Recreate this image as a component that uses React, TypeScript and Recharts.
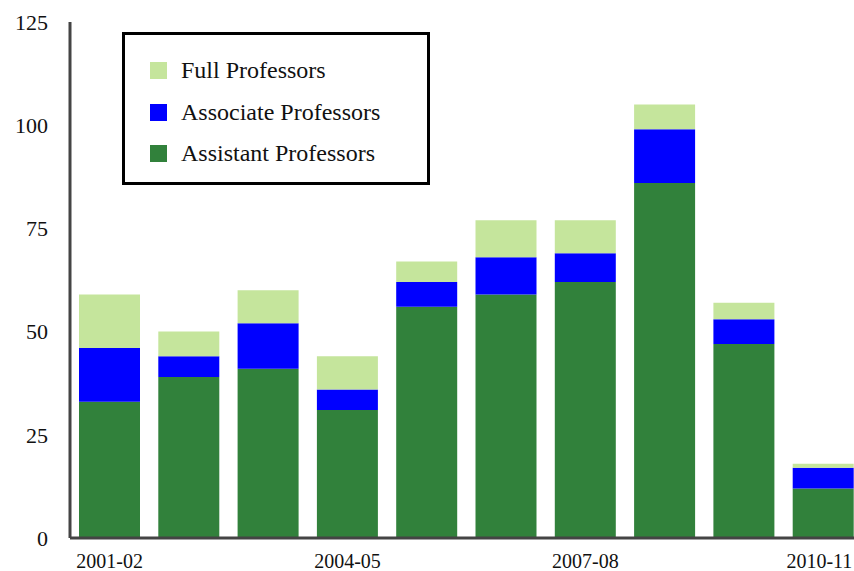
import React from "react";
import { BarChart, Bar, XAxis, YAxis, Legend } from "recharts";

const years = ["2001-02", "2002-03", "2003-04", "2004-05", "2005-06", "2006-07", "2007-08", "2008-09", "2009-10", "2010-11"];
const assistant = [33, 39, 41, 31, 56, 59, 62, 86, 47, 12];
const associate = [13, 5, 11, 5, 6, 9, 7, 13, 6, 5];
const full = [13, 6, 8, 8, 5, 9, 8, 6, 4, 1];
const yTicks = [0, 25, 50, 75, 100, 125];

const COLORS = { full: "#c5e59c", associate: "#0000ff", assistant: "#31813b" };

const data = years.map((y, i) => ({
  year: y,
  assistant: assistant[i],
  associate: associate[i],
  full: full[i],
}));

const FONT = "'Liberation Serif', 'DejaVu Serif', serif";

const legendItems = [
  { label: "Full Professors", color: COLORS.full },
  { label: "Associate Professors", color: COLORS.associate },
  { label: "Assistant Professors", color: COLORS.assistant },
];

const LegendBox = () => (
  <div
    style={{
      width: 308,
      height: 153,
      boxSizing: "border-box",
      border: "3px solid #000",
      background: "#fff",
      paddingTop: 15,
      paddingLeft: 25,
      fontFamily: FONT,
      fontSize: 24,
      color: "#111",
      textAlign: "left",
    }}
  >
    {legendItems.map((it, i) => (
      <div key={i} style={{ display: "flex", alignItems: "center", height: 41.5, whiteSpace: "nowrap" }}>
        <div style={{ width: 17, height: 17, background: it.color, marginRight: 14, flex: "none" }} />
        <span>{it.label}</span>
      </div>
    ))}
  </div>
);

const XTick = (props: any) => {
  const { x, y, payload, index } = props;
  const shift = payload && payload.value === years[years.length - 1] ? -4 : 0;
  return (
    <text
      x={x + shift}
      y={y}
      dy="0.71em"
      textAnchor="middle"
      fill="#111"
      fontSize={20}
      fontFamily={FONT}
    >
      {payload.value}
    </text>
  );
};

export default function App() {
  return (
    <div style={{ position: "fixed", left: 0, top: 0, width: 854, height: 571, overflow: "hidden", background: "#fff" }}>
      <BarChart
        width={870}
        height={571}
        data={data}
        margin={{ top: 22, right: 7, left: 0, bottom: 0 }}
      >
        <XAxis
          dataKey="year"
          interval={2}
          height={33}
          tickLine={false}
          tickSize={0}
          tickMargin={16}
          axisLine={{ stroke: "#444", strokeWidth: 3 }}
          tick={<XTick />}
        />
        <YAxis
          width={70}
          domain={[0, 125]}
          ticks={yTicks}
          interval={0}
          tickLine={false}
          tickSize={0}
          tickMargin={22}
          axisLine={{ stroke: "#444", strokeWidth: 3 }}
          tick={{ fill: "#111", fontSize: 22, fontFamily: FONT }}
        />
        <Legend
          layout="vertical"
          align="center"
          verticalAlign="middle"
          content={<LegendBox />}
          wrapperStyle={{ position: "absolute", left: 122, top: 32, width: 308, height: 153 }}
        />
        <Bar dataKey="assistant" stackId="a" fill={COLORS.assistant} barSize={61} isAnimationActive={false} />
        <Bar dataKey="associate" stackId="a" fill={COLORS.associate} barSize={61} isAnimationActive={false} />
        <Bar dataKey="full" stackId="a" fill={COLORS.full} barSize={61} isAnimationActive={false} />
      </BarChart>
    </div>
  );
}
